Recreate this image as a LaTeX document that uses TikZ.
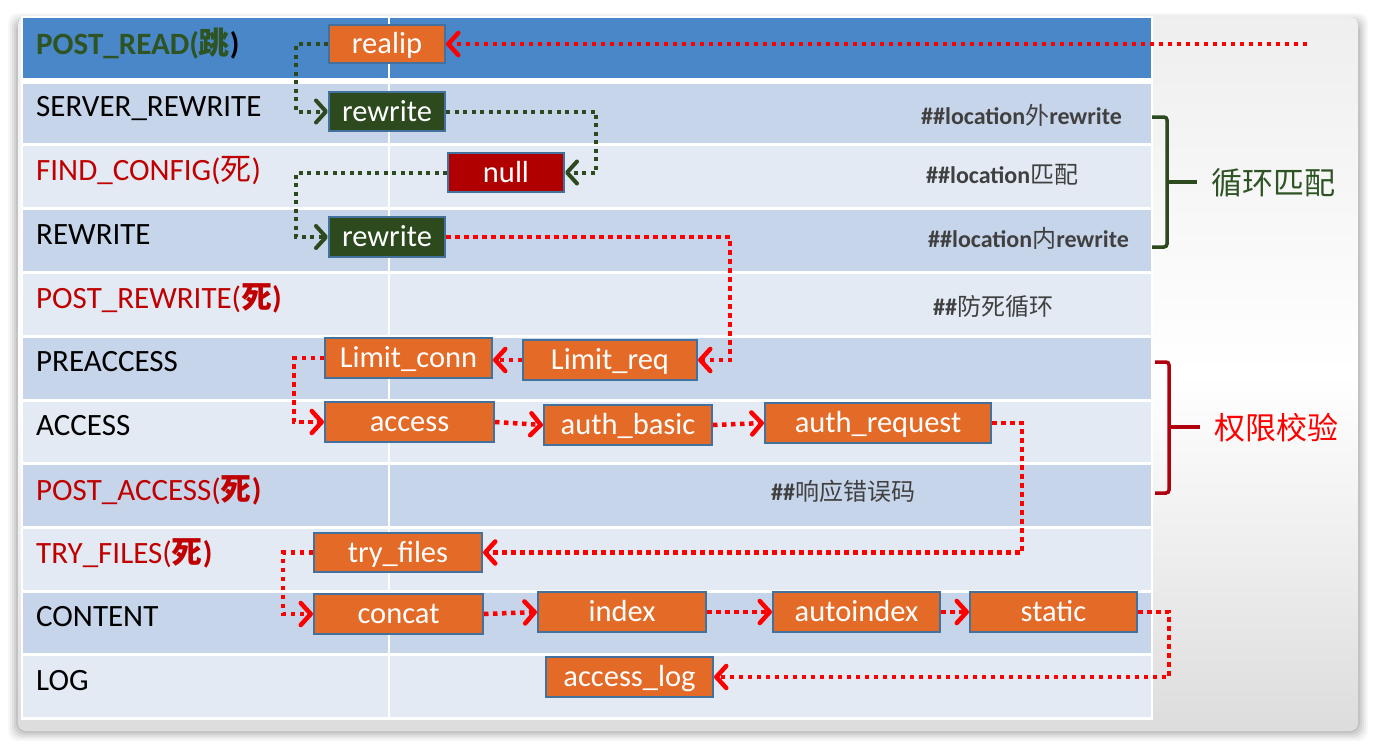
\documentclass[tikz,border=0pt]{standalone}
\usepackage{fontspec}
\setmainfont{Carlito}
\newfontfamily\cjk{Noto Sans CJK SC}
\usetikzlibrary{arrows.meta}
\definecolor{hdr}{HTML}{4A87C8}
\definecolor{rowA}{HTML}{C7D5EA}
\definecolor{rowB}{HTML}{E3EAF4}
\definecolor{boxor}{HTML}{E46A27}
\definecolor{boxbd}{HTML}{41719C}
\definecolor{dkgreen}{HTML}{2C4A1E}
\definecolor{nullred}{HTML}{B00000}
\definecolor{lblred}{HTML}{C00000}
\definecolor{ttlgreen}{HTML}{2E5424}
\definecolor{cmt}{HTML}{404040}
\definecolor{arrred}{HTML}{FF0000}
\definecolor{brred}{HTML}{B00010}
\newcommand\zh[1]{{\cjk #1}}
\tikzset{
  procbox/.style={draw=boxbd, line width=2pt, fill=boxor, text=white,
    font=\fontsize{30.5}{31}\selectfont, inner sep=0pt, text height=24pt, text depth=5pt},
  lbl/.style={anchor=base west, inner sep=0pt, font=\fontsize{31}{32}\selectfont},
  cmtlbl/.style={anchor=west, inner sep=0pt, text=cmt, font=\fontsize{24}{25}\selectfont\bfseries,
    text height=18pt, text depth=4pt},
  redflow/.style={draw=arrred, line width=4.5pt, dash pattern=on 4.5pt off 4.5pt,
    -{Straight Barb[length=10pt,width=22pt,line width=4.5pt,round]}},
  grnflow/.style={draw=dkgreen, line width=4pt, dash pattern=on 4pt off 4.5pt,
    -{Straight Barb[length=10pt,width=22pt,line width=4pt,round]}},
  brace/.style={line width=3.5pt, rounded corners=3pt},
}
\begin{document}
\begin{tikzpicture}[x=1pt,y=-1pt]
\useasboundingbox (0,0) rectangle (1376,750);
\fill[white] (0,0) rectangle (1376,750);
% shadow
\foreach \o/\op in {10/0.03,8/0.04,6/0.05,4/0.06,2/0.07}{
  \fill[black,opacity=\op,rounded corners=10pt] (18-\o,17-\o+6) rectangle (1358+\o,731+\o);
}
% card
\shade[rounded corners=8pt, top color=gray!13, bottom color=gray!27, middle color=white]
  (18,17) rectangle (1358,731);
% table
\fill[white] (21,16) rectangle (1153,720);
\fill[hdr]  (23,18)  rectangle (1151,78);
\fill[rowA] (23,84)  rectangle (1151,143);
\fill[rowB] (23,146) rectangle (1151,207);
\fill[rowA] (23,210) rectangle (1151,271);
\fill[rowB] (23,274) rectangle (1151,335);
\fill[rowA] (23,338) rectangle (1151,399);
\fill[rowB] (23,402) rectangle (1151,462);
\fill[rowA] (23,465) rectangle (1151,526);
\fill[rowB] (23,529) rectangle (1151,590);
\fill[rowA] (23,593) rectangle (1151,653);
\fill[rowB] (23,656) rectangle (1151,717);
\draw[white,line width=2pt] (389,18) -- (389,718);
% left labels
\node[lbl] (l1) at (36,54) {\bfseries\color{ttlgreen}POST\_READ(\zh{跳}\color{black})};
\node[lbl] (l2) at (36,116) {SERVER\_REWRITE};
\node[lbl,text=lblred] (l3) at (36,180) {FIND\_CONFIG(\zh{死})};
\node[lbl] (l4) at (36,244) {REWRITE};
\node[lbl,text=lblred] (l5) at (36,308) {POST\_REWRITE(\textbf{\zh{死})}};
\node[lbl] (l6) at (36,371) {PREACCESS};
\node[lbl] (l7) at (36,435) {ACCESS};
\node[lbl,text=lblred] (l8) at (36,500) {POST\_ACCESS(\textbf{\zh{死})}};
\node[lbl,text=lblred] (l9) at (36,563) {TRY\_FILES(\textbf{\zh{死})}};
\node[lbl] (l10) at (36,626) {CONTENT};
\node[lbl] (l11) at (36,690) {LOG};
% comments
\node[cmtlbl] (c1) at (921,117) {\#\#location{\cjk\mdseries 外}rewrite};
\node[cmtlbl] (c2) at (926,176) {\#\#location{\cjk\mdseries 匹配}};
\node[cmtlbl] (c3) at (928,240) {\#\#location{\cjk\mdseries 内}rewrite};
\node[cmtlbl] (c4) at (933,308) {\#\#{\cjk\mdseries 防死循环}};
\node[cmtlbl] (c5) at (771,493) {\#\#{\cjk\mdseries 响应错误码}};
% boxes
\node[procbox, minimum width=116pt, minimum height=38pt] (realip) at (387,44) {realip};
\node[procbox, fill=dkgreen, minimum width=116pt, minimum height=39pt] (rw1) at (387,111.5) {rewrite};
\node[procbox, fill=nullred, minimum width=116pt, minimum height=39pt] (null) at (506,172.5) {null};
\node[procbox, fill=dkgreen, minimum width=116pt, minimum height=40pt] (rw2) at (387,237) {rewrite};
\node[procbox, minimum width=167pt, minimum height=40pt] (lconn) at (408.5,358) {Limit\_conn};
\node[procbox, minimum width=174pt, minimum height=40pt] (lreq) at (610,360) {Limit\_req};
\node[procbox, minimum width=169pt, minimum height=40pt] (access) at (409.5,422) {access};
\node[procbox, minimum width=168pt, minimum height=40pt] (abasic) at (628,425) {auth\_basic};
\node[procbox, minimum width=226pt, minimum height=40pt] (areq) at (878,423) {auth\_request};
\node[procbox, minimum width=168pt, minimum height=39pt] (try) at (398,552.5) {try\_files};
\node[procbox, minimum width=169pt, minimum height=40pt] (concat) at (398.5,614) {concat};
\node[procbox, minimum width=168pt, minimum height=40pt] (index) at (622,612) {index};
\node[procbox, minimum width=167pt, minimum height=40pt] (aidx) at (856.5,612) {autoindex};
\node[procbox, minimum width=167pt, minimum height=40pt] (static) at (1053.5,612) {static};
\node[procbox, minimum width=167pt, minimum height=40pt] (alog) at (629.5,677) {access\_log};
% connectors
\coordinate (src) at (1307,44);
\draw[redflow] (src) -- (realip.east);
\draw[grnflow] (realip.west) -- ++(-32,0) |- (rw1.west);
\draw[grnflow] (rw1.east) -- ++(150,0) |- (null.east);
\draw[grnflow] (null.west) -- ++(-151,0) |- (rw2.west);
\draw[redflow] (rw2.east) -- ++(284,0) |- (lreq.east);
\draw[redflow] (lreq.west) -- (lreq.west -| lconn.east);
\draw[redflow] (lconn.west) -- ++(-30,0) |- (access.west);
\draw[redflow] (access.east) -- (abasic.west);
\draw[redflow] (abasic.east) -- (areq.west);
\draw[redflow] (areq.east) -- ++(30,0) |- (try.east);
\draw[redflow] (try.west) -- ++(-30,0) |- (concat.west);
\draw[redflow] (concat.east) -- (index.west);
\draw[redflow] (index.east) -- (aidx.west);
\draw[redflow] (aidx.east) -- (static.west);
\draw[redflow] (static.east) -- ++(31,0) |- (alog.east);
% braces
\coordinate (g1) at (1152,117);
\coordinate (g2) at (1152,247);
\coordinate (g3) at (1197,182);
\draw[brace, draw=dkgreen] (g1) -- (g1 -| 1167,0) -- (g2 -| 1167,0) -- (g2);
\draw[line width=3.5pt, draw=dkgreen] (1167,182) -- (g3);
\node[anchor=west, inner sep=0pt, text=ttlgreen, font=\fontsize{31}{32}\selectfont\cjk] (t1) at (1211,183) {循环匹配};
\coordinate (r1) at (1155,362);
\coordinate (r2) at (1155,493);
\coordinate (r3) at (1200,427);
\draw[brace, draw=brred] (r1) -- (r1 -| 1169,0) -- (r2 -| 1169,0) -- (r2);
\draw[line width=4pt, draw=brred] (1169,427) -- (r3);
\node[anchor=west, inner sep=0pt, text=arrred, font=\fontsize{31}{32}\selectfont\cjk] (t2) at (1214,428) {权限校验};
\end{tikzpicture}
\end{document}
